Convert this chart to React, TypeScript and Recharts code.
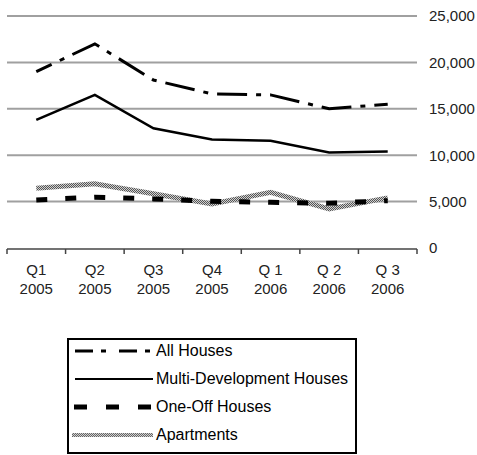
import React from 'react';
import { LineChart, Line, XAxis, YAxis, CartesianGrid, Legend } from 'recharts';

const quarters = ['Q1', 'Q2', 'Q3', 'Q4', 'Q 1', 'Q 2', 'Q 3'];
const years = ['2005', '2005', '2005', '2005', '2006', '2006', '2006'];
const allHouses = [19000, 22000, 18100, 16600, 16500, 15000, 15500];
const multiDev = [13800, 16500, 12900, 11700, 11550, 10300, 10400];
const oneOff = [5180, 5470, 5290, 5040, 4920, 4820, 5100];
const apartments = [6450, 6920, 5840, 4750, 6010, 4200, 5400];
const yTicks = [0, 5000, 10000, 15000, 20000, 25000];
const gridValues = [5000, 10000, 15000, 20000, 25000];
const boundaryTicks = [-0.5, 0.5, 1.5, 2.5, 3.5, 4.5, 5.5, 6.5];
const indexTicks = [0, 1, 2, 3, 4, 5, 6];

const data = quarters.map((q, i) => ({
  i,
  all: allHouses[i],
  multi: multiDev[i],
  oneOff: oneOff[i],
  apt: apartments[i],
}));

const FONT = '"Liberation Sans", Arial, sans-serif';

const XTick = (props: any) => {
  const { x, y, payload } = props;
  const idx = payload.value;
  return (
    <g>
      <text x={x} y={y + 27} textAnchor="middle" fontSize={15} fill="#222" fontFamily={FONT}>
        {quarters[idx]}
      </text>
      <text x={x} y={y + 46} textAnchor="middle" fontSize={15} fill="#222" fontFamily={FONT}>
        {years[idx]}
      </text>
    </g>
  );
};

const fmt = (v: number) => v.toLocaleString('en-US');
const blank = () => '';

const legendItems = [
  { label: 'All Houses', kind: 'all' },
  { label: 'Multi-Development Houses', kind: 'multi' },
  { label: 'One-Off Houses', kind: 'oneOff' },
  { label: 'Apartments', kind: 'apt' },
];

const Sample = ({ kind }: { kind: string }) => (
  <svg width={84} height={12} style={{ display: 'block' }}>
    <defs>
      <pattern id="hatchLegend" width={2} height={2} patternUnits="userSpaceOnUse">
        <rect width={2} height={2} fill="#d0d0d0" />
        <rect width={1} height={1} fill="#666" />
        <rect x={1} y={1} width={1} height={1} fill="#666" />
      </pattern>
    </defs>
    {kind === 'all' && <line x1={6} x2={84} y1={6} y2={6} stroke="#000" strokeWidth={3} strokeDasharray="18 8 5 13" />}
    {kind === 'multi' && <line x1={6} x2={84} y1={6} y2={6} stroke="#000" strokeWidth={2} />}
    {kind === 'oneOff' && <line x1={5} x2={84} y1={6} y2={6} stroke="#000" strokeWidth={5} strokeDasharray="13 19" />}
    {kind === 'apt' && <line x1={3} x2={84} y1={6} y2={6} stroke="url(#hatchLegend)" strokeWidth={4} />}
  </svg>
);

const LegendBox = () => (
  <div
    style={{
      boxSizing: 'border-box',
      width: 290,
      height: 116,
      border: '2px solid #000',
      background: '#fff',
      fontFamily: FONT,
      fontSize: 16,
      color: '#000',
      overflow: 'hidden',
    }}
  >
    <div style={{ marginTop: -3 }}>
      {legendItems.map((it) => (
        <div key={it.kind} style={{ display: 'flex', alignItems: 'center', height: 28 }}>
          <Sample kind={it.kind} />
          <span style={{ marginLeft: 3, whiteSpace: 'nowrap', lineHeight: '18px' }}>{it.label}</span>
        </div>
      ))}
    </div>
  </div>
);

export default function App() {
  return (
    <div style={{ position: 'absolute', left: 0, top: 0, width: 477, height: 455, background: '#fff' }}>
      <LineChart width={477} height={455} data={data} margin={{ top: 16, right: 0, bottom: 205, left: 7 }}>
        <defs>
          <pattern id="hatch" width={2} height={2} patternUnits="userSpaceOnUse">
            <rect width={2} height={2} fill="#d0d0d0" />
            <rect width={1} height={1} fill="#555" />
            <rect x={1} y={1} width={1} height={1} fill="#555" />
          </pattern>
        </defs>
        <CartesianGrid vertical={false} horizontalValues={gridValues} stroke="#a0a0a0" strokeWidth={2} />
        <XAxis
          xAxisId="ticks"
          type="number"
          dataKey="i"
          domain={[-0.5, 6.5]}
          ticks={boundaryTicks}
          interval={0}
          tickFormatter={blank}
          tickSize={5}
          height={1}
          axisLine={{ stroke: '#444', strokeWidth: 1.5 }}
          tickLine={{ stroke: '#444', strokeWidth: 1.5 }}
        />
        <XAxis
          type="number"
          dataKey="i"
          domain={[-0.5, 6.5]}
          ticks={indexTicks}
          interval={0}
          axisLine={false}
          tickLine={false}
          tickSize={0}
          tickMargin={0}
          height={1}
          tick={<XTick />}
        />
        <YAxis
          orientation="right"
          domain={[0, 25000]}
          ticks={yTicks}
          width={60}
          axisLine={false}
          tickLine={false}
          tickSize={0}
          tickMargin={12}
          tickFormatter={fmt}
          tick={{ fontSize: 15, fill: '#222', fontFamily: FONT }}
        />
        <Legend
          layout="vertical"
          align="center"
          verticalAlign="middle"
          wrapperStyle={{ left: 67, top: 338, width: 290, height: 116 }}
          content={() => <LegendBox />}
        />
        <Line xAxisId="ticks" dataKey="apt" stroke="url(#hatch)" strokeWidth={5} dot={false} isAnimationActive={false} />
        <Line dataKey="oneOff" stroke="#000" strokeWidth={5} strokeDasharray="11 18" dot={false} isAnimationActive={false} />
        <Line dataKey="multi" stroke="#000" strokeWidth={2.5} dot={false} isAnimationActive={false} />
        <Line dataKey="all" stroke="#000" strokeWidth={3} strokeDasharray="30 9 5 9" strokeDashoffset={13} dot={false} isAnimationActive={false} />
      </LineChart>
    </div>
  );
}
